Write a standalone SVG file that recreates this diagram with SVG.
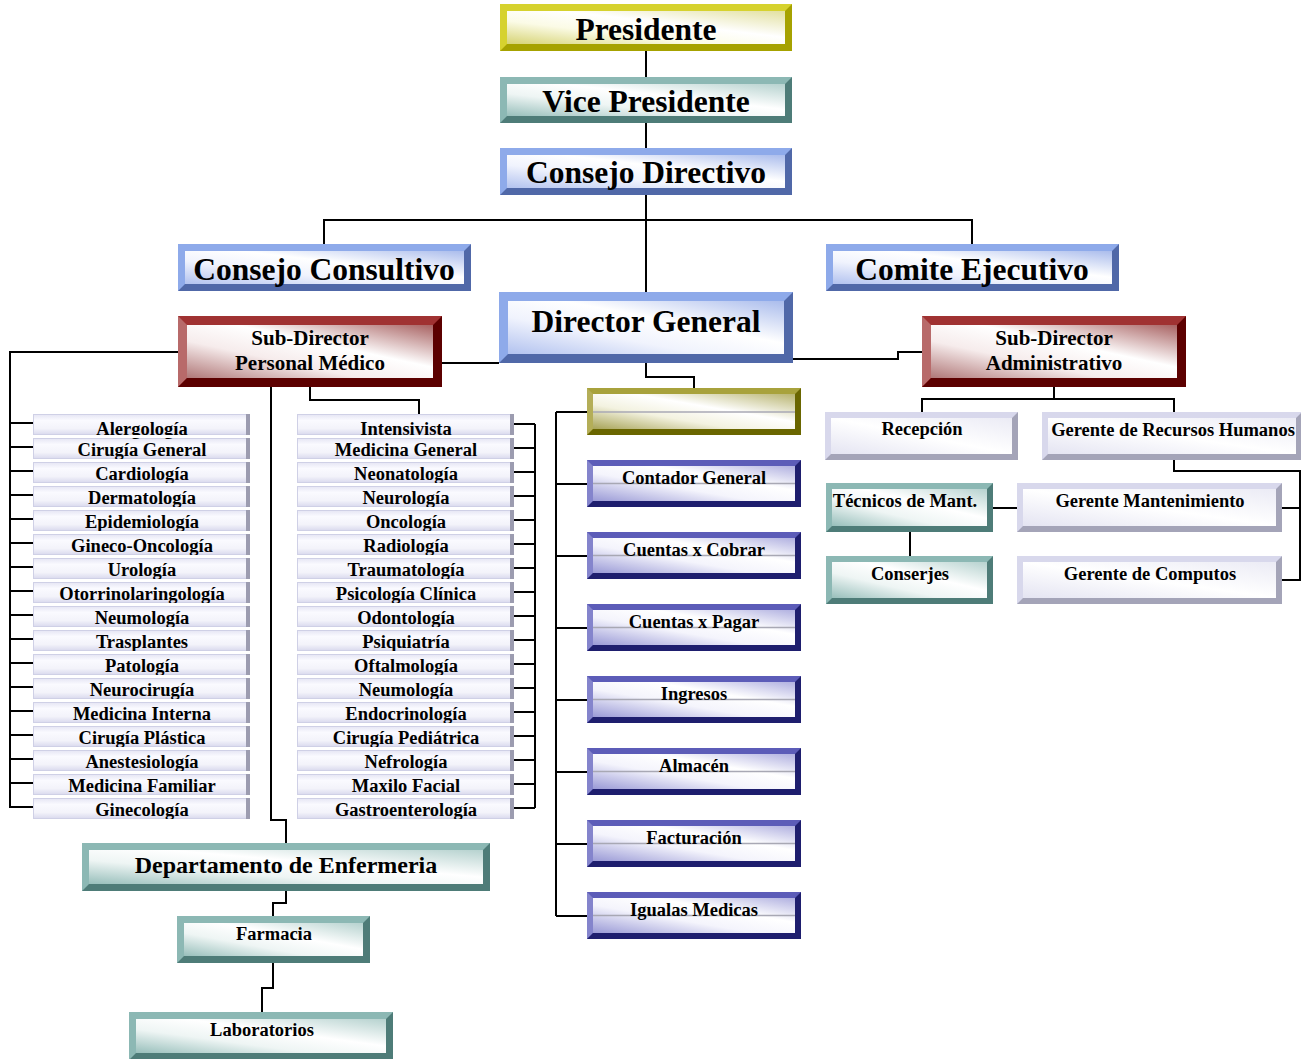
<svg xmlns="http://www.w3.org/2000/svg" xmlns:xlink="http://www.w3.org/1999/xlink" width="1301" height="1059" viewBox="0 0 1301 1059">
<style>
text{font-family:"Liberation Serif","Times New Roman",serif;font-weight:bold;fill:#000;text-anchor:middle}
.big{font-size:31.5px}
.mid{font-size:21px}
.sm{font-size:18.5px}
.dep{font-size:24px}
.conn path{fill:none;stroke:#000;stroke-width:2}
.yO{fill:#d6d22e}.yD{fill:#a6a200}
.tO{fill:#8cb8b4}.tD{fill:#4e7c78}
.bO{fill:#8eaaea}.bD{fill:#5068a8}
.rO{fill:#a03232}.rL{fill:#b86a6a}.rD{fill:#5c0000}
.oO{fill:#a8a23c}.oL{fill:#b4ae58}.oD{fill:#6a6600}
.pO{fill:#5c5cb8}.pL{fill:#8484cc}.pD{fill:#1e1e6e}
.lO{fill:#d8d8ec}.lD{fill:#a4a4b8}
.gl{stroke:#a8a8b4;stroke-width:1.5}
</style>
<defs>
<linearGradient id="gY" x1="0" y1="1" x2="1" y2="0"><stop offset="0" stop-color="#d6d374"/><stop offset=".35" stop-color="#fbfbe6"/><stop offset=".6" stop-color="#ffffff"/><stop offset="1" stop-color="#e2e0a0"/></linearGradient>
<linearGradient id="gT" x1="0" y1="1" x2="1" y2="0"><stop offset="0" stop-color="#98bfbb"/><stop offset=".35" stop-color="#eef5f4"/><stop offset=".6" stop-color="#ffffff"/><stop offset="1" stop-color="#b6d2cf"/></linearGradient>
<linearGradient id="gB" x1="0" y1="1" x2="1" y2="0"><stop offset="0" stop-color="#b2c2ef"/><stop offset=".35" stop-color="#f0f3fd"/><stop offset=".6" stop-color="#ffffff"/><stop offset="1" stop-color="#aabcec"/></linearGradient>
<linearGradient id="gR" x1="0" y1="1" x2="1" y2="0"><stop offset="0" stop-color="#b07878"/><stop offset=".35" stop-color="#f6ecec"/><stop offset=".6" stop-color="#ffffff"/><stop offset="1" stop-color="#a86262"/></linearGradient>
<linearGradient id="gO" x1="0" y1="1" x2="1" y2="0"><stop offset="0" stop-color="#a8a458"/><stop offset=".35" stop-color="#f3f2e0"/><stop offset=".6" stop-color="#ffffff"/><stop offset="1" stop-color="#b8b470"/></linearGradient>
<linearGradient id="gP" x1="0" y1="1" x2="1" y2="0"><stop offset="0" stop-color="#9a9ad6"/><stop offset=".4" stop-color="#f4f4fc"/><stop offset=".65" stop-color="#ffffff"/><stop offset="1" stop-color="#b0b0e0"/></linearGradient>
<linearGradient id="gL" x1="0" y1="1" x2="1" y2="0"><stop offset="0" stop-color="#e4e4f2"/><stop offset=".5" stop-color="#ffffff"/><stop offset="1" stop-color="#ebebf5"/></linearGradient>
<linearGradient id="gRow" x1="0" y1="0" x2="0" y2="1"><stop offset="0" stop-color="#e6e6f4"/><stop offset=".3" stop-color="#fafaff"/><stop offset=".7" stop-color="#f3f3fa"/><stop offset="1" stop-color="#dadaee"/></linearGradient>
<g id="pbox">
<rect x="0" y="0" width="214" height="47" class="pO"/>
<polygon points="0,0 6,6 6,41 0,47" class="pL"/>
<polygon points="214,0 214,47 0,47 6,41 208,41 208,6" class="pD"/>
<rect x="6" y="6" width="202" height="35" fill="url(#gP)"/>
<line x1="6" y1="23.5" x2="208" y2="23.5" class="gl"/>
</g>
<g id="lrow">
<rect x="0.5" y="0.5" width="216" height="20" fill="url(#gRow)" stroke="#cfd0e6" stroke-width="1"/>
<rect x="213" y="0" width="4" height="21" fill="#9c9cb0"/>
</g>
<clipPath id="rowclip">
<rect x="0" y="414" width="1301" height="21"/><rect x="0" y="438" width="1301" height="21"/><rect x="0" y="462" width="1301" height="21"/><rect x="0" y="486" width="1301" height="21"/><rect x="0" y="510" width="1301" height="21"/><rect x="0" y="534" width="1301" height="21"/><rect x="0" y="558" width="1301" height="21"/><rect x="0" y="582" width="1301" height="21"/><rect x="0" y="606" width="1301" height="21"/><rect x="0" y="630" width="1301" height="21"/><rect x="0" y="654" width="1301" height="21"/><rect x="0" y="678" width="1301" height="21"/><rect x="0" y="702" width="1301" height="21"/><rect x="0" y="726" width="1301" height="21"/><rect x="0" y="750" width="1301" height="21"/><rect x="0" y="774" width="1301" height="21"/><rect x="0" y="798" width="1301" height="21"/>
</clipPath>
</defs>
<rect width="1301" height="1059" fill="#fff"/>

<g id="connectors" class="conn">
<path d="M646 51V77"/>
<path d="M646 123V148"/>
<path d="M646 195V292"/>
<path d="M324 244V220H972V244"/>
<path d="M646 363V377H694V388"/>
<path d="M442 363H499"/>
<path d="M793 359H898V352H922"/>
<path d="M178 352H10V808"/>
<path d="M10 423H33M10 447H33M10 471H33M10 495H33M10 519H33M10 543H33M10 567H33M10 591H33M10 615H33M10 639H33M10 663H33M10 687H33M10 711H33M10 735H33M10 759H33M10 783H33M10 807H33"/>
<path d="M310 387V400H419V414"/>
<path d="M535 424V808"/>
<path d="M514 424H535M514 448H535M514 472H535M514 496H535M514 520H535M514 544H535M514 568H535M514 592H535M514 616H535M514 640H535M514 664H535M514 688H535M514 712H535M514 736H535M514 760H535M514 784H535M514 808H535"/>
<path d="M271 387V820H286V843"/>
<path d="M286 891V903H273V916"/>
<path d="M273 963V988H262V1012"/>
<path d="M556 412V916"/>
<path d="M556 412H587M556 484H587M556 556H587M556 628H587M556 700H587M556 772H587M556 844H587M556 916H587"/>
<path d="M922 412V399H1174V412M1054 387V399"/>
<path d="M993 508H1017"/>
<path d="M910 532V556"/>
<path d="M1174 460V471H1300V580H1282M1282 508H1300"/>
</g>

<g id="presidente">
<rect x="500" y="4" width="292" height="47" class="yO"/>
<polygon points="792,4 792,51 500,51 507,44 785,44 785,11" class="yD"/>
<rect x="507" y="11" width="278" height="33" fill="url(#gY)"/>
<text x="646" y="40" class="big">Presidente</text>
</g>
<g id="vice-presidente">
<rect x="500" y="77" width="292" height="46" class="tO"/>
<polygon points="792,77 792,123 500,123 507,116 785,116 785,84" class="tD"/>
<rect x="507" y="84" width="278" height="32" fill="url(#gT)"/>
<text x="646" y="112" class="big">Vice Presidente</text>
</g>
<g id="consejo-directivo">
<rect x="500" y="148" width="292" height="47" class="bO"/>
<polygon points="792,148 792,195 500,195 507,188 785,188 785,155" class="bD"/>
<rect x="507" y="155" width="278" height="33" fill="url(#gB)"/>
<text x="646" y="183" class="big">Consejo Directivo</text>
</g>
<g id="consejo-consultivo">
<rect x="178" y="244" width="293" height="47" class="bO"/>
<polygon points="471,244 471,291 178,291 185,284 464,284 464,251" class="bD"/>
<rect x="185" y="251" width="279" height="33" fill="url(#gB)"/>
<text x="324" y="280" class="big">Consejo Consultivo</text>
</g>
<g id="comite-ejecutivo">
<rect x="826" y="244" width="293" height="47" class="bO"/>
<polygon points="1119,244 1119,291 826,291 833,284 1112,284 1112,251" class="bD"/>
<rect x="833" y="251" width="279" height="33" fill="url(#gB)"/>
<text x="972" y="280" class="big">Comite Ejecutivo</text>
</g>
<g id="director-general">
<rect x="499" y="292" width="294" height="71" class="bO"/>
<polygon points="793,292 793,363 499,363 508,354 784,354 784,301" class="bD"/>
<rect x="508" y="301" width="276" height="53" fill="url(#gB)"/>
<text x="646" y="332" class="big">Director General</text>
</g>
<g id="subdirector-medico">
<rect x="178" y="316" width="264" height="71" class="rO"/>
<polygon points="178,316 187,325 187,378 178,387" class="rL"/>
<polygon points="442,316 442,387 178,387 187,378 433,378 433,325" class="rD"/>
<rect x="187" y="325" width="246" height="53" fill="url(#gR)"/>
<text x="310" y="345" class="mid">Sub-Director</text>
<text x="310" y="370" class="mid">Personal Médico</text>
</g>
<g id="subdirector-administrativo">
<rect x="922" y="316" width="264" height="71" class="rO"/>
<polygon points="922,316 931,325 931,378 922,387" class="rL"/>
<polygon points="1186,316 1186,387 922,387 931,378 1177,378 1177,325" class="rD"/>
<rect x="931" y="325" width="246" height="53" fill="url(#gR)"/>
<text x="1054" y="345" class="mid">Sub-Director</text>
<text x="1054" y="370" class="mid">Administrativo</text>
</g>

<g id="lista-izquierda">
<use xlink:href="#lrow" x="33" y="414"/><use xlink:href="#lrow" x="33" y="438"/><use xlink:href="#lrow" x="33" y="462"/><use xlink:href="#lrow" x="33" y="486"/><use xlink:href="#lrow" x="33" y="510"/><use xlink:href="#lrow" x="33" y="534"/><use xlink:href="#lrow" x="33" y="558"/><use xlink:href="#lrow" x="33" y="582"/><use xlink:href="#lrow" x="33" y="606"/><use xlink:href="#lrow" x="33" y="630"/><use xlink:href="#lrow" x="33" y="654"/><use xlink:href="#lrow" x="33" y="678"/><use xlink:href="#lrow" x="33" y="702"/><use xlink:href="#lrow" x="33" y="726"/><use xlink:href="#lrow" x="33" y="750"/><use xlink:href="#lrow" x="33" y="774"/><use xlink:href="#lrow" x="33" y="798"/>
<g class="sm" clip-path="url(#rowclip)">
<text x="142" y="435" class="sm">Alergología</text>
<text x="142" y="455.5" class="sm">Cirugía General</text>
<text x="142" y="479.5" class="sm">Cardiología</text>
<text x="142" y="503.5" class="sm">Dermatología</text>
<text x="142" y="527.5" class="sm">Epidemiología</text>
<text x="142" y="551.5" class="sm">Gineco-Oncología</text>
<text x="142" y="575.5" class="sm">Urología</text>
<text x="142" y="599.5" class="sm">Otorrinolaringología</text>
<text x="142" y="623.5" class="sm">Neumología</text>
<text x="142" y="647.5" class="sm">Trasplantes</text>
<text x="142" y="671.5" class="sm">Patología</text>
<text x="142" y="695.5" class="sm">Neurocirugía</text>
<text x="142" y="719.5" class="sm">Medicina Interna</text>
<text x="142" y="743.5" class="sm">Cirugía Plástica</text>
<text x="142" y="767.5" class="sm">Anestesiología</text>
<text x="142" y="791.5" class="sm">Medicina Familiar</text>
<text x="142" y="815.5" class="sm">Ginecología</text>
</g>
</g>

<g id="lista-central">
<use xlink:href="#lrow" x="297" y="414"/><use xlink:href="#lrow" x="297" y="438"/><use xlink:href="#lrow" x="297" y="462"/><use xlink:href="#lrow" x="297" y="486"/><use xlink:href="#lrow" x="297" y="510"/><use xlink:href="#lrow" x="297" y="534"/><use xlink:href="#lrow" x="297" y="558"/><use xlink:href="#lrow" x="297" y="582"/><use xlink:href="#lrow" x="297" y="606"/><use xlink:href="#lrow" x="297" y="630"/><use xlink:href="#lrow" x="297" y="654"/><use xlink:href="#lrow" x="297" y="678"/><use xlink:href="#lrow" x="297" y="702"/><use xlink:href="#lrow" x="297" y="726"/><use xlink:href="#lrow" x="297" y="750"/><use xlink:href="#lrow" x="297" y="774"/><use xlink:href="#lrow" x="297" y="798"/>
<g clip-path="url(#rowclip)">
<text x="406" y="435" class="sm">Intensivista</text>
<text x="406" y="455.5" class="sm">Medicina General</text>
<text x="406" y="479.5" class="sm">Neonatología</text>
<text x="406" y="503.5" class="sm">Neurología</text>
<text x="406" y="527.5" class="sm">Oncología</text>
<text x="406" y="551.5" class="sm">Radiología</text>
<text x="406" y="575.5" class="sm">Traumatología</text>
<text x="406" y="599.5" class="sm">Psicología Clínica</text>
<text x="406" y="623.5" class="sm">Odontología</text>
<text x="406" y="647.5" class="sm">Psiquiatría</text>
<text x="406" y="671.5" class="sm">Oftalmología</text>
<text x="406" y="695.5" class="sm">Neumología</text>
<text x="406" y="719.5" class="sm">Endocrinología</text>
<text x="406" y="743.5" class="sm">Cirugía Pediátrica</text>
<text x="406" y="767.5" class="sm">Nefrología</text>
<text x="406" y="791.5" class="sm">Maxilo Facial</text>
<text x="406" y="815.5" class="sm">Gastroenterología</text>
</g>
</g>

<g id="caja-olivo">
<rect x="587" y="388" width="214" height="47" class="oO"/>
<polygon points="587,388 593,394 593,429 587,435" class="oL"/>
<polygon points="801,388 801,435 587,435 593,429 795,429 795,394" class="oD"/>
<rect x="593" y="394" width="202" height="35" fill="url(#gO)"/>
<line x1="593" y1="412" x2="795" y2="412" class="gl"/>
</g>
<g id="contador-general"><use xlink:href="#pbox" x="587" y="460"/><text x="694" y="484" class="sm">Contador General</text></g>
<g id="cuentas-cobrar"><use xlink:href="#pbox" x="587" y="532"/><text x="694" y="556" class="sm">Cuentas x Cobrar</text></g>
<g id="cuentas-pagar"><use xlink:href="#pbox" x="587" y="604"/><text x="694" y="628" class="sm">Cuentas x Pagar</text></g>
<g id="ingresos"><use xlink:href="#pbox" x="587" y="676"/><text x="694" y="700" class="sm">Ingresos</text></g>
<g id="almacen"><use xlink:href="#pbox" x="587" y="748"/><text x="694" y="772" class="sm">Almacén</text></g>
<g id="facturacion"><use xlink:href="#pbox" x="587" y="820"/><text x="694" y="844" class="sm">Facturación</text></g>
<g id="igualas-medicas"><use xlink:href="#pbox" x="587" y="892"/><text x="694" y="916" class="sm">Igualas Medicas</text></g>

<g id="recepcion">
<rect x="825" y="412" width="193" height="48" class="lO"/>
<polygon points="1018,412 1018,460 825,460 831,454 1012,454 1012,418" class="lD"/>
<rect x="831" y="418" width="181" height="36" fill="url(#gL)"/>
<text x="922" y="435" class="sm">Recepción</text>
</g>
<g id="recursos-humanos">
<rect x="1042" y="412" width="260" height="48" class="lO"/>
<polygon points="1302,412 1302,460 1042,460 1048,454 1296,454 1296,418" class="lD"/>
<rect x="1048" y="418" width="248" height="36" fill="url(#gL)"/>
<text x="1173" y="436" class="sm">Gerente de Recursos Humanos</text>
</g>
<g id="tecnicos-mant">
<rect x="826" y="483" width="167" height="49" class="tO"/>
<polygon points="993,483 993,532 826,532 832,526 987,526 987,489" class="tD"/>
<rect x="832" y="489" width="155" height="37" fill="url(#gT)"/>
<text x="905" y="507" class="sm">Técnicos de Mant.</text>
</g>
<g id="gerente-mantenimiento">
<rect x="1017" y="483" width="265" height="49" class="lO"/>
<polygon points="1282,483 1282,532 1017,532 1023,526 1276,526 1276,489" class="lD"/>
<rect x="1023" y="489" width="253" height="37" fill="url(#gL)"/>
<text x="1150" y="507" class="sm">Gerente Mantenimiento</text>
</g>
<g id="conserjes">
<rect x="826" y="556" width="167" height="48" class="tO"/>
<polygon points="993,556 993,604 826,604 832,598 987,598 987,562" class="tD"/>
<rect x="832" y="562" width="155" height="36" fill="url(#gT)"/>
<text x="910" y="580" class="sm">Conserjes</text>
</g>
<g id="gerente-computos">
<rect x="1017" y="556" width="265" height="48" class="lO"/>
<polygon points="1282,556 1282,604 1017,604 1023,598 1276,598 1276,562" class="lD"/>
<rect x="1023" y="562" width="253" height="36" fill="url(#gL)"/>
<text x="1150" y="580" class="sm">Gerente de Computos</text>
</g>

<g id="enfermeria">
<rect x="82" y="843" width="408" height="48" class="tO"/>
<polygon points="490,843 490,891 82,891 89,884 483,884 483,850" class="tD"/>
<rect x="89" y="850" width="394" height="34" fill="url(#gT)"/>
<text x="286" y="873" class="dep">Departamento de Enfermeria</text>
</g>
<g id="farmacia">
<rect x="177" y="916" width="193" height="47" class="tO"/>
<polygon points="370,916 370,963 177,963 184,956 363,956 363,923" class="tD"/>
<rect x="184" y="923" width="179" height="33" fill="url(#gT)"/>
<text x="274" y="940" class="sm">Farmacia</text>
</g>
<g id="laboratorios">
<rect x="129" y="1012" width="264" height="48" class="tO"/>
<polygon points="393,1012 393,1060 129,1060 136,1053 386,1053 386,1019" class="tD"/>
<rect x="136" y="1019" width="250" height="34" fill="url(#gT)"/>
<text x="262" y="1036" class="sm">Laboratorios</text>
</g>
</svg>
